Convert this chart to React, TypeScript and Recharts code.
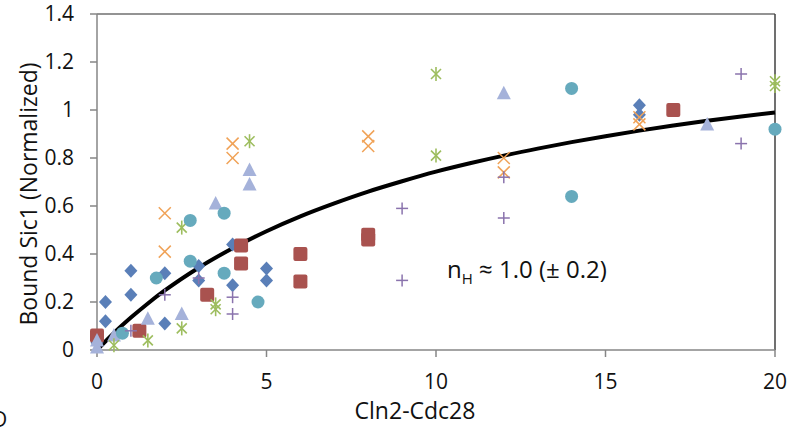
import React from 'react'
import { ComposedChart, Scatter, Line, XAxis, YAxis, ReferenceLine } from 'recharts'

// values
const X_TICKS = [0, 5, 10, 15, 20]
const Y_TICKS = [0, 0.2, 0.4, 0.6, 0.8, 1, 1.2, 1.4]

const diamondPts = [
  [0, 0.03], [0.25, 0.2], [0.25, 0.12], [1, 0.33], [1, 0.23], [2, 0.32], [2, 0.11],
  [3, 0.35], [3, 0.29], [4, 0.44], [4, 0.27], [5, 0.34], [5, 0.29], [16, 1.02], [16, 0.98],
]
const squarePts = [
  [0, 0.06], [1.25, 0.08], [3.25, 0.23], [4.25, 0.435], [4.25, 0.36],
  [6, 0.4], [6, 0.285], [8, 0.48], [8, 0.46], [17, 1.0],
]
const trianglePts = [
  [0, 0.04], [0, 0.01], [0.5, 0.06], [1.5, 0.13], [2.5, 0.15], [3.5, 0.61],
  [4.5, 0.75], [4.5, 0.69], [12, 1.07], [18, 0.94],
]
const crossPts = [
  [2, 0.57], [2, 0.41], [4, 0.86], [4, 0.8], [8, 0.89], [8, 0.85],
  [12, 0.8], [12, 0.74], [16, 0.97], [16, 0.94],
]
const starPts = [
  [0.5, 0.02], [1.5, 0.04], [2.5, 0.51], [2.5, 0.09], [3.5, 0.19], [3.5, 0.17],
  [4.5, 0.87], [10, 1.15], [10, 0.81], [20, 1.12], [20, 1.1],
]
const circlePts = [
  [0.75, 0.07], [1.75, 0.3], [2.75, 0.54], [2.75, 0.37], [3.75, 0.57], [3.75, 0.32],
  [4.75, 0.2], [14, 1.09], [14, 0.64], [20, 0.92],
]
const plusPts = [
  [1, 0.08], [2, 0.23], [3, 0.3], [4, 0.22], [4, 0.15], [9, 0.59], [9, 0.29],
  [12, 0.72], [12, 0.55], [19, 1.15], [19, 0.86],
]

// Hill fit curve (n_H ~ 1)
const fitX = [0, 0.5, 1, 1.5, 2, 3, 4, 5, 6, 7, 8, 9, 10, 11, 12, 13, 14, 15, 16, 17, 18, 19, 20]
const fitY = [0, 0.071, 0.135, 0.194, 0.248, 0.343, 0.424, 0.495, 0.557, 0.611, 0.66, 0.703, 0.743, 0.778, 0.81, 0.839, 0.866, 0.891, 0.914, 0.935, 0.955, 0.973, 0.99]

const toData = (pts: number[][]) => pts.map(([x, y]) => ({ x, y }))
const fitData = fitX.map((x, i) => ({ x, y: fitY[i] }))

const FONT = '"Open Sans", sans-serif'
const AXIS = '#868686'
const INK = '#111'

type P = { cx?: number; cy?: number }

const Diamond = ({ cx = 0, cy = 0 }: P) => (
  <polygon points={`${cx},${cy - 7} ${cx + 6.5},${cy} ${cx},${cy + 7} ${cx - 6.5},${cy}`} fill="#5a7fb8" />
)
const Square = ({ cx = 0, cy = 0 }: P) => (
  <rect x={cx - 7} y={cy - 7} width={14} height={14} rx={2} fill="#a9524f" />
)
const Triangle = ({ cx = 0, cy = 0 }: P) => (
  <polygon points={`${cx},${cy - 7.5} ${cx + 7},${cy + 6} ${cx - 7},${cy + 6}`} fill="#a5b2da" />
)
const Circle = ({ cx = 0, cy = 0 }: P) => <circle cx={cx} cy={cy} r={6.5} fill="#66aabd" />
const XMark = ({ cx = 0, cy = 0 }: P) => (
  <g stroke="#f0a257" strokeWidth={1.5}>
    <line x1={cx - 6} y1={cy - 6} x2={cx + 6} y2={cy + 6} />
    <line x1={cx - 6} y1={cy + 6} x2={cx + 6} y2={cy - 6} />
  </g>
)
const Star = ({ cx = 0, cy = 0 }: P) => (
  <g stroke="#9dbd5e" strokeWidth={1.6}>
    <line x1={cx - 5} y1={cy - 5} x2={cx + 5} y2={cy + 5} />
    <line x1={cx - 5} y1={cy + 5} x2={cx + 5} y2={cy - 5} />
    <line x1={cx} y1={cy - 7} x2={cx} y2={cy + 7} />
  </g>
)
const Plus = ({ cx = 0, cy = 0 }: P) => (
  <g stroke="#8a73ad" strokeWidth={1.5}>
    <line x1={cx - 6} y1={cy} x2={cx + 6} y2={cy} />
    <line x1={cx} y1={cy - 6} x2={cx} y2={cy + 6} />
  </g>
)

export default function App() {
  return (
    <div style={{ position: 'absolute', left: 0, top: 0, width: 791, height: 428, fontFamily: FONT, background: '#fff', overflow: 'hidden' }}>
      <ComposedChart width={791} height={428} margin={{ top: 14, right: 16, bottom: 18, left: 0 }}>
        <XAxis
          type="number"
          dataKey="x"
          domain={[0, 20]}
          ticks={X_TICKS}
          height={60}
          stroke={AXIS}
          strokeWidth={1.5}
          tickSize={7}
          tickMargin={17}
          tick={{ fontSize: 21, fill: INK, fontFamily: FONT }}
          label={{
            content: () => (
              <text x={415} y={419} textAnchor="middle" fontSize={23} fontFamily={FONT} fill={INK}>
                Cln2-Cdc28
              </text>
            ),
          }}
        />
        <YAxis
          type="number"
          dataKey="y"
          domain={[0, 1.4]}
          ticks={Y_TICKS}
          width={97}
          stroke={AXIS}
          strokeWidth={1.5}
          tickSize={7}
          tickMargin={16}
          tick={{ fontSize: 21, fill: INK, fontFamily: FONT }}
          label={{
            content: () => (
              <text
                x={28}
                y={194}
                transform="rotate(-90 28 194)"
                textAnchor="middle"
                dominantBaseline="central"
                fontSize={23}
                fontFamily={FONT}
                fill={INK}
              >
                Bound Sic1 (Normalized)
              </text>
            ),
          }}
        />
        <ReferenceLine y={1.4} stroke="#6f6f6f" strokeWidth={1.5} />
        <ReferenceLine x={20} stroke="#404040" strokeWidth={1.5} />
        <Scatter data={toData(diamondPts)} shape={Diamond} isAnimationActive={false} />
        <Scatter data={toData(squarePts)} shape={Square} isAnimationActive={false} />
        <Scatter data={toData(trianglePts)} shape={Triangle} isAnimationActive={false} />
        <Scatter data={toData(crossPts)} shape={XMark} isAnimationActive={false} />
        <Scatter data={toData(starPts)} shape={Star} isAnimationActive={false} />
        <Scatter data={toData(circlePts)} shape={Circle} isAnimationActive={false} />
        <Scatter data={toData(plusPts)} shape={Plus} isAnimationActive={false} />
        <Line
          data={fitData}
          dataKey="y"
          type="monotone"
          stroke="#000"
          strokeWidth={4}
          dot={false}
          activeDot={false}
          isAnimationActive={false}
        />
      </ComposedChart>
      <div style={{ position: 'absolute', left: 447, top: 252, fontSize: 24, lineHeight: '33px', color: INK, whiteSpace: 'nowrap' }}>
        n<sub style={{ fontSize: 15, lineHeight: 0 }}>H</sub> ≈ 1.0 (± 0.2)
      </div>
      <div style={{ position: 'absolute', left: -8, top: 405, fontSize: 21, lineHeight: '29px', color: INK }}>D</div>
    </div>
  )
}
